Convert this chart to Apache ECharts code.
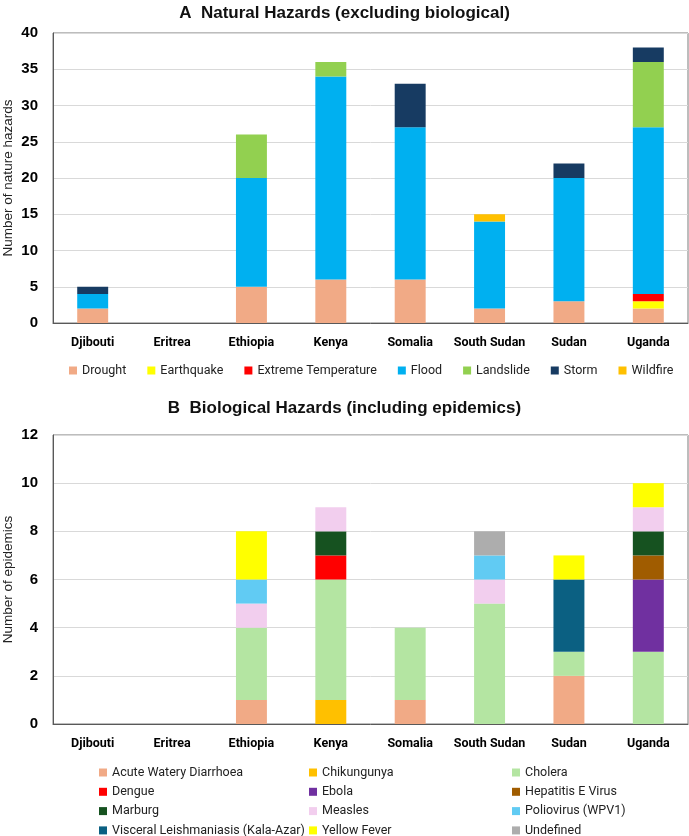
<!DOCTYPE html>
<html>
<head>
<meta charset="utf-8">
<script src="https://cdn.jsdelivr.net/npm/echarts@6/dist/echarts.min.js"></script>
<style>
  html, body { margin: 0; padding: 0; background: #fff; }
  #chart { width: 689px; height: 836px; }
</style>
</head>
<body>
<div id="chart"></div>
<script>
var countries = ['Djibouti', 'Eritrea', 'Ethiopia', 'Kenya', 'Somalia', 'South Sudan', 'Sudan', 'Uganda'];

// A - natural hazards
var drought = [2, 0, 5, 6, 6, 2, 3, 2];
var earthquake = [0, 0, 0, 0, 0, 0, 0, 1];
var extremeTemp = [0, 0, 0, 0, 0, 0, 0, 1];
var flood = [2, 0, 15, 28, 21, 12, 17, 23];
var landslide = [0, 0, 6, 2, 0, 0, 0, 9];
var storm = [1, 0, 0, 0, 6, 0, 2, 2];
var wildfire = [0, 0, 0, 0, 0, 1, 0, 0];

// B - biological hazards
var awd = [0, 0, 1, 0, 1, 0, 2, 0];
var chikungunya = [0, 0, 0, 1, 0, 0, 0, 0];
var cholera = [0, 0, 3, 5, 3, 5, 1, 3];
var dengue = [0, 0, 0, 1, 0, 0, 0, 0];
var ebola = [0, 0, 0, 0, 0, 0, 0, 3];
var hepatitisE = [0, 0, 0, 0, 0, 0, 0, 1];
var marburg = [0, 0, 0, 1, 0, 0, 0, 1];
var measles = [0, 0, 1, 1, 0, 1, 0, 1];
var polio = [0, 0, 1, 0, 0, 1, 0, 0];
var leish = [0, 0, 0, 0, 0, 0, 3, 0];
var yellowFever = [0, 0, 2, 0, 0, 0, 1, 1];
var undefinedCase = [0, 0, 0, 0, 0, 1, 0, 0];

var natural = [
    ['Drought', drought, '#F1AA86'],
    ['Earthquake', earthquake, '#FFFF00'],
    ['Extreme Temperature', extremeTemp, '#FF0000'],
    ['Flood', flood, '#00B0F0'],
    ['Landslide', landslide, '#92D050'],
    ['Storm', storm, '#173B62'],
    ['Wildfire', wildfire, '#FFC000']
];
var bio = [
    ['Acute Watery Diarrhoea', awd, '#F1AA86'],
    ['Chikungunya', chikungunya, '#FFC000'],
    ['Cholera', cholera, '#B4E5A2'],
    ['Dengue', dengue, '#FF0000'],
    ['Ebola', ebola, '#7030A0'],
    ['Hepatitis E Virus', hepatitisE, '#A05C00'],
    ['Marburg', marburg, '#165220'],
    ['Measles', measles, '#F2CEEE'],
    ['Poliovirus (WPV1)', polio, '#61CBF3'],
    ['Visceral Leishmaniasis (Kala-Azar)', leish, '#0B6082'],
    ['Yellow Fever', yellowFever, '#FFFF00'],
    ['Undefined', undefinedCase, '#ADADAD']
];

var narrow = '"Liberation Sans Narrow", "Liberation Sans", Arial, sans-serif';
var body = 'Roboto, "Noto Sans", sans-serif';

var series = [];
natural.forEach(function (s) {
    series.push({
        name: s[0], type: 'bar', stack: 'nat', xAxisIndex: 0, yAxisIndex: 0,
        barWidth: '39%', data: s[1], itemStyle: { color: s[2] }
    });
});
bio.forEach(function (s) {
    series.push({
        name: s[0], type: 'bar', stack: 'bio', xAxisIndex: 1, yAxisIndex: 1,
        barWidth: '39%', data: s[1], itemStyle: { color: s[2] }
    });
});

function xAx(idx) {
    return {
        type: 'category', gridIndex: idx, data: countries,
        axisTick: { show: false },
        axisLine: { lineStyle: { color: '#595959', width: 1 } },
        axisLabel: { interval: 0, color: '#000', fontFamily: body, fontWeight: 'bold', fontSize: 12.5, margin: 13 }
    };
}
function yAx(idx, max, interval, name) {
    return {
        type: 'value', gridIndex: idx, min: 0, max: max, interval: interval,
        name: name, nameLocation: 'middle', nameGap: 38, nameMoveOverlap: false,
        nameTextStyle: { color: '#222', fontFamily: '"Liberation Sans", Arial, sans-serif', fontSize: 13.5 },
        axisLine: { show: true, lineStyle: { color: '#595959', width: 1 } },
        axisTick: { show: false },
        axisLabel: { color: '#000', fontFamily: narrow, fontWeight: 'bold', fontSize: 15, margin: 15 },
        splitLine: { lineStyle: { color: '#D9D9D9', width: 1 } }
    };
}

var legendText = { color: '#222', fontFamily: body, fontSize: 12.5, lineHeight: 15 };
function bioLegend(left, names) {
    return {
        orient: 'vertical', left: left, top: 765, height: 100, itemGap: 4.3,
        itemWidth: 8, itemHeight: 8, icon: 'rect', padding: 0,
        textStyle: legendText, data: names
    };
}

var myChart = echarts.init(document.getElementById('chart'));
var option = {
    animation: false,
    title: [
        { text: 'A  Natural Hazards (excluding biological)', left: 'center', top: 0,
          textStyle: { fontFamily: narrow, fontWeight: 'bold', fontSize: 17, color: '#111' } },
        { text: 'B  Biological Hazards (including epidemics)', left: 'center', top: 395,
          textStyle: { fontFamily: narrow, fontWeight: 'bold', fontSize: 17, color: '#111' } }
    ],
    grid: [
        { left: 53, right: 1, top: 33, height: 290, outerBoundsMode: 'none',
          show: true, borderColor: '#7a7a7a', borderWidth: 1 },
        { left: 53, right: 1, top: 435, height: 289, outerBoundsMode: 'none',
          show: true, borderColor: '#7a7a7a', borderWidth: 1 }
    ],
    legend: [
        { left: 69, top: 363, width: 640, padding: 0, itemGap: 21, itemWidth: 8, itemHeight: 8, icon: 'rect',
          textStyle: legendText, data: natural.map(function (s) { return s[0]; }) },
        bioLegend(99, ['Acute Watery Diarrhoea', 'Dengue', 'Marburg', 'Visceral Leishmaniasis (Kala-Azar)']),
        bioLegend(309, ['Chikungunya', 'Ebola', 'Measles', 'Yellow Fever']),
        bioLegend(512, ['Cholera', 'Hepatitis E Virus', 'Poliovirus (WPV1)', 'Undefined'])
    ],
    xAxis: [xAx(0), xAx(1)],
    yAxis: [
        yAx(0, 40, 5, 'Number of nature hazards'),
        yAx(1, 12, 2, 'Number of epidemics')
    ],
    series: series
};
myChart.setOption(option);
</script>
</body>
</html>
